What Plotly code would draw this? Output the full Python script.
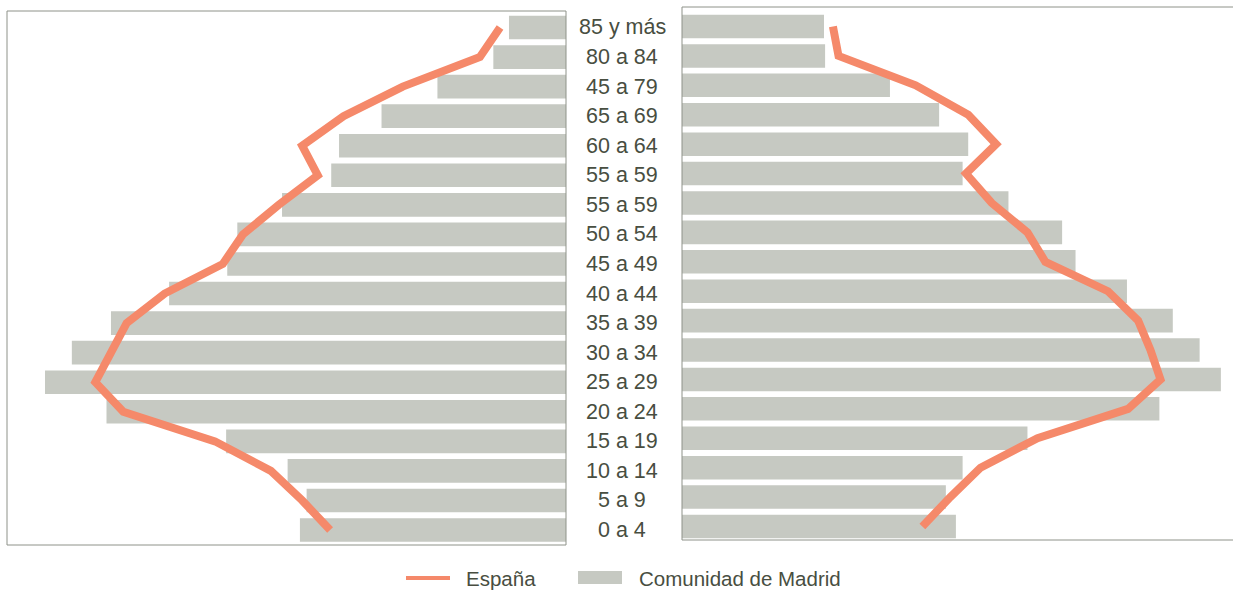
import plotly.graph_objects as go

# Grupos de edad (de arriba a abajo, tal como aparecen en el gráfico)
grupos = ["85 y más", "80 a 84", "45 a 79", "65 a 69", "60 a 64", "55 a 59",
          "55 a 59", "50 a 54", "45 a 49", "40 a 44", "35 a 39", "30 a 34",
          "25 a 29", "20 a 24", "15 a 19", "10 a 14", "5 a 9", "0 a 4"]

# Panel izquierdo (%)
madrid_izq = [0.51, 0.65, 1.15, 1.65, 2.03, 2.10, 2.54, 2.94, 3.03, 3.55,
              4.07, 4.42, 4.66, 4.11, 3.04, 2.49, 2.32, 2.38]
espana_izq = [0.59, 0.77, 1.46, 1.99, 2.36, 2.22, 2.57, 2.89, 3.07, 3.59,
              3.93, 4.07, 4.21, 3.96, 3.14, 2.64, 2.36, 2.11]

# Panel derecho (%)
madrid_der = [1.27, 1.28, 1.86, 2.30, 2.56, 2.51, 2.92, 3.40, 3.52, 3.98,
              4.39, 4.63, 4.82, 4.27, 3.09, 2.51, 2.36, 2.45]
espana_der = [1.35, 1.40, 2.09, 2.56, 2.81, 2.54, 2.77, 3.09, 3.25, 3.81,
              4.08, 4.19, 4.28, 3.99, 3.18, 2.67, 2.40, 2.15]

series_leyenda = ["España", "Comunidad de Madrid"]

W, H = 1233, 591
BAR = "#c6c9c2"
LINE = "#f5896a"
TXT = "#484e41"
FRAME = "#8e9289"
FONT = "Liberation Sans, Arial, sans-serif"

pos = list(range(len(grupos) - 1, -1, -1))

fig = go.Figure()

fig.add_trace(go.Bar(x=madrid_izq, y=pos, orientation="h", xaxis="x", yaxis="y",
                     marker=dict(color=BAR, line=dict(width=0)), width=0.8,
                     name=series_leyenda[1], showlegend=False))
fig.add_trace(go.Bar(x=madrid_der, y=pos, orientation="h", xaxis="x2", yaxis="y2",
                     marker=dict(color=BAR, line=dict(width=0)), width=0.8,
                     name=series_leyenda[1], showlegend=False))
fig.add_trace(go.Scatter(x=espana_izq, y=pos, mode="lines", xaxis="x", yaxis="y",
                         line=dict(color=LINE, width=8), name=series_leyenda[0],
                         showlegend=False))
fig.add_trace(go.Scatter(x=espana_der, y=pos, mode="lines", xaxis="x2", yaxis="y2",
                         line=dict(color=LINE, width=8), name=series_leyenda[0],
                         showlegend=False))

ax_common = dict(showgrid=False, zeroline=False, showticklabels=False,
                 ticks="", showline=False, fixedrange=True)

fig.update_layout(
    width=W, height=H,
    margin=dict(l=0, r=0, t=0, b=0),
    paper_bgcolor="white", plot_bgcolor="white",
    barmode="overlay",
    font=dict(family=FONT, color=TXT, size=20),
    xaxis=dict(domain=[7 / W, 566 / W], range=[5.0, 0], anchor="y", **ax_common),
    xaxis2=dict(domain=[682 / W, 1.0], range=[0, 551 / 111.8], anchor="y2", **ax_common),
    yaxis=dict(domain=[1 - 545 / H, 1 - 11 / H], range=[-0.507, 17.558],
               anchor="x", **ax_common),
    yaxis2=dict(domain=[1 - 540 / H, 1 - 7 / H], range=[-0.459, 17.663],
                anchor="x2", **ax_common),
    showlegend=False,
)

# Marcos de los paneles
fig.add_shape(type="rect", xref="x domain", yref="y domain", x0=0, x1=1, y0=0, y1=1,
              line=dict(color=FRAME, width=1), fillcolor="rgba(0,0,0,0)", layer="above")
fig.add_shape(type="rect", xref="x2 domain", yref="y2 domain", x0=0, x1=1.05, y0=0, y1=1,
              line=dict(color=FRAME, width=1), fillcolor="rgba(0,0,0,0)", layer="above")

# Etiquetas de grupos de edad en el centro
for p, g in zip(pos, grupos):
    fig.add_annotation(x=622 / W, xref="paper", y=p, yref="y", text=g,
                       showarrow=False, xanchor="center", yanchor="middle",
                       font=dict(family=FONT, size=21.5, color=TXT))

# Leyenda
ly = 1 - 578 / H
fig.add_shape(type="line", xref="paper", yref="paper", x0=406 / W, x1=450 / W,
              y0=ly, y1=ly, line=dict(color=LINE, width=4))
fig.add_annotation(x=464 / W, xref="paper", y=ly, yref="paper", text=series_leyenda[0],
                   showarrow=False, xanchor="left", yanchor="middle",
                   font=dict(family=FONT, size=20.5, color=TXT))
fig.add_shape(type="rect", xref="paper", yref="paper", x0=578 / W, x1=622 / W,
              y0=1 - 584 / H, y1=1 - 571 / H, line=dict(width=0), fillcolor=BAR)
fig.add_annotation(x=637 / W, xref="paper", y=ly, yref="paper", text=series_leyenda[1],
                   showarrow=False, xanchor="left", yanchor="middle",
                   font=dict(family=FONT, size=20.5, color=TXT))

fig.write_html("out.html", config={"displayModeBar": False},
               post_script="document.body.style.margin='0';")
